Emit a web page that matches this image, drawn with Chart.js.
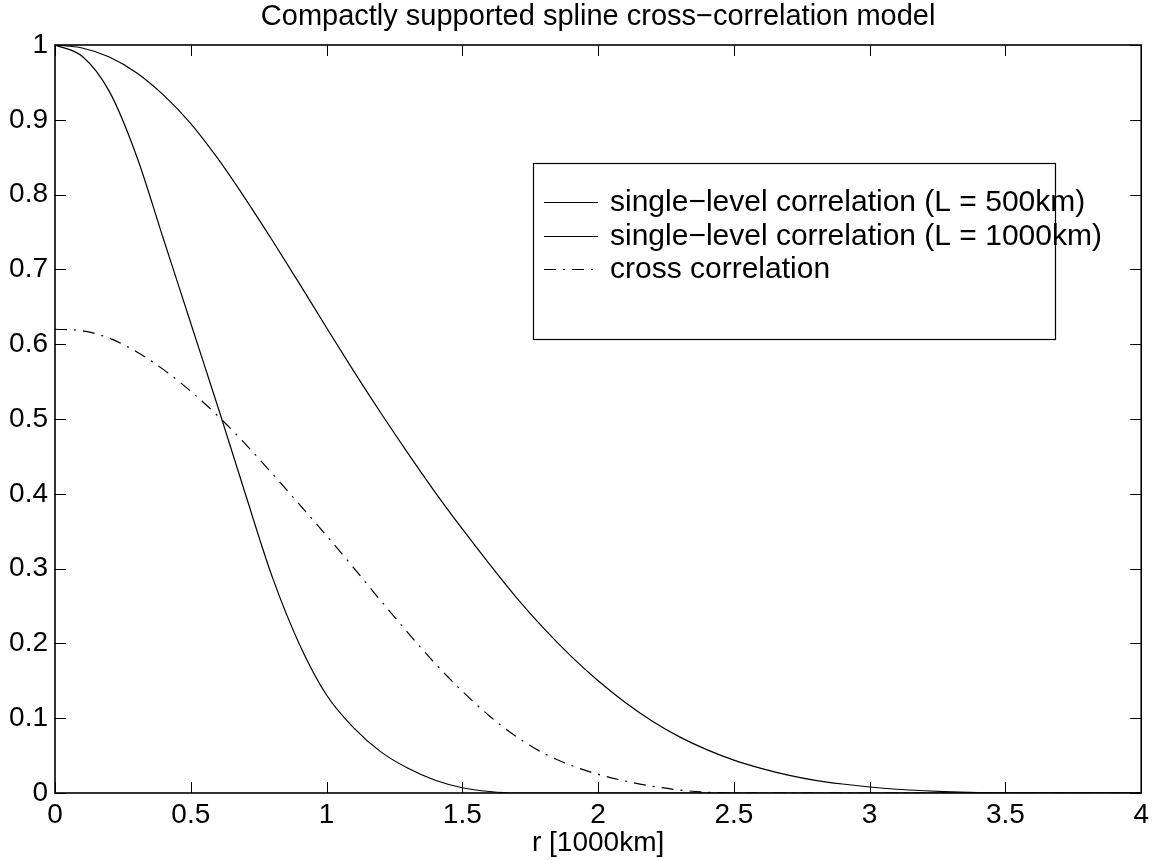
<!DOCTYPE html>
<html>
<head>
<meta charset="utf-8">
<title>Compactly supported spline cross-correlation model</title>
<script src="https://cdn.jsdelivr.net/npm/chart.js@4.4.0/dist/chart.umd.min.js"></script>
<style>
  html, body { margin:0; padding:0; background:#fff; }
  #wrap { width:1154px; height:860px; }
</style>
</head>
<body>
<div id="wrap"><canvas id="chart" width="1154" height="860"></canvas></div>
<script>
// r in units of 1000 km
const rValues = [
  0.0, 0.1, 0.2, 0.3, 0.4, 0.5, 0.6, 0.7, 0.8, 0.9,
  1.0, 1.1, 1.2, 1.3, 1.4, 1.5, 1.6, 1.7, 1.8, 1.9,
  2.0, 2.1, 2.2, 2.3, 2.4, 2.5, 2.6, 2.7, 2.8, 2.9,
  3.0, 3.1, 3.2, 3.3, 3.4, 3.5, 3.6, 3.7, 3.8, 3.9, 4.0
];

// single-level correlation, L = 500 km
const corr500 = [
  1.000, 0.985, 0.938, 0.852, 0.740, 0.628, 0.516, 0.401, 0.289, 0.199,
  0.131, 0.087, 0.055, 0.033, 0.017, 0.007, 0.002, 0.000, 0, 0,
  0, 0, 0, 0, 0, 0, 0, 0, 0, 0,
  0, 0, 0, 0, 0, 0, 0, 0, 0, 0, 0
];

// single-level correlation, L = 1000 km
const corr1000 = [
  1.000, 0.996, 0.984, 0.963, 0.933, 0.895, 0.848, 0.795, 0.739, 0.681,
  0.622, 0.564, 0.508, 0.454, 0.402, 0.353, 0.306, 0.261, 0.220, 0.183,
  0.150, 0.121, 0.096, 0.075, 0.058, 0.044, 0.033, 0.024, 0.017, 0.012,
  0.008, 0.005, 0.003, 0.0015, 0.0005, 0, 0, 0, 0, 0, 0
];

// cross correlation between the two levels
const crossCorr = [
  0.620, 0.618, 0.608, 0.590, 0.566, 0.537, 0.504, 0.467, 0.427, 0.386,
  0.344, 0.301, 0.257, 0.214, 0.173, 0.136, 0.103, 0.075, 0.053, 0.037,
  0.025, 0.016, 0.009, 0.004, 0.001, 0.000, 0, 0, 0, 0,
  0, 0, 0, 0, 0, 0, 0, 0, 0, 0, 0
];

const xTicks = [0, 0.5, 1, 1.5, 2, 2.5, 3, 3.5, 4];
const yTicks = [0, 0.1, 0.2, 0.3, 0.4, 0.5, 0.6, 0.7, 0.8, 0.9, 1];

const seriesNames = [
  'single\u2212level correlation (L = 500km)',
  'single\u2212level correlation (L = 1000km)',
  'cross correlation'
];

const FONT = "'Liberation Sans', Arial, Helvetica, sans-serif";
const TICK_LEN = 11;

const toPoints = (ys) => rValues.map((r, i) => ({ x: r, y: ys[i] }));
const fmt = (v) => String(+v.toFixed(2));

// matlab-style box with ticks pointing inward on all four sides
const boxAxes = {
  id: 'boxAxes',
  afterDraw(chart){
    const { ctx, chartArea: a, scales: { x, y } } = chart;
    ctx.save();
    ctx.strokeStyle = '#000';
    ctx.lineWidth = 1;
    ctx.beginPath();
    x.ticks.forEach(t => {
      const px = Math.round(x.getPixelForValue(t.value)) + 0.5;
      ctx.moveTo(px, a.bottom); ctx.lineTo(px, a.bottom - TICK_LEN);
      ctx.moveTo(px, a.top);    ctx.lineTo(px, a.top + TICK_LEN);
    });
    y.ticks.forEach(t => {
      const py = Math.round(y.getPixelForValue(t.value)) + 0.5;
      ctx.moveTo(a.left, py);  ctx.lineTo(a.left + TICK_LEN, py);
      ctx.moveTo(a.right, py); ctx.lineTo(a.right - TICK_LEN, py);
    });
    ctx.stroke();
    ctx.lineWidth = 1.6;
    ctx.strokeRect(a.left, a.top, a.right - a.left, a.bottom - a.top);
    ctx.restore();
  }
};

// legend box sitting inside the axes, upper right
const legendBox = { left: 478, top: 118, width: 522, height: 176, firstRow: 39, rowGap: 33.5, lineFrom: 11, lineTo: 65, textAt: 77 };

const insideLegend = {
  id: 'insideLegend',
  afterDraw(chart){
    const { ctx, chartArea: a } = chart;
    const L = legendBox;
    const bx = a.left + L.left, by = a.top + L.top;
    ctx.save();
    ctx.fillStyle = '#fff';
    ctx.fillRect(bx, by, L.width, L.height);
    ctx.strokeStyle = '#000';
    ctx.lineWidth = 1.2;
    ctx.strokeRect(bx + 0.5, by + 0.5, L.width, L.height);
    ctx.font = '30px ' + FONT;
    ctx.textBaseline = 'alphabetic';
    ctx.fillStyle = '#000';
    chart.data.datasets.forEach((ds, i) => {
      const ly = Math.round(by + L.firstRow + i * L.rowGap) + 0.5;
      ctx.lineWidth = ds.borderWidth;
      ctx.setLineDash(ds.borderDash || []);
      ctx.beginPath();
      ctx.moveTo(bx + L.lineFrom, ly);
      ctx.lineTo(bx + L.lineTo, ly);
      ctx.stroke();
      ctx.setLineDash([]);
      ctx.fillText(ds.label, bx + L.textAt, ly + 8);
    });
    ctx.restore();
  }
};

const lineStyle = { borderColor: '#000', borderWidth: 1.2, pointRadius: 0, showLine: true, fill: false, cubicInterpolationMode: 'monotone' };

new Chart(document.getElementById('chart'), {
  type: 'scatter',
  data: {
    datasets: [
      { ...lineStyle, label: seriesNames[0], data: toPoints(corr500) },
      { ...lineStyle, label: seriesNames[1], data: toPoints(corr1000) },
      { ...lineStyle, label: seriesNames[2], data: toPoints(crossCorr), borderDash: [12, 7, 2, 7] }
    ]
  },
  options: {
    responsive: false,
    animation: false,
    layout: { padding: { left: 0, right: 12, top: 0, bottom: 0 } },
    plugins: {
      legend: { display: false },
      tooltip: { enabled: false },
      title: {
        display: true,
        fullSize: false,
        text: 'Compactly supported spline cross\u2212correlation model',
        color: '#000',
        font: { family: FONT, size: 29, weight: 'normal', lineHeight: 1.2 },
        padding: { top: 0, bottom: 10.2 }
      }
    },
    scales: {
      x: {
        type: 'linear', min: 0, max: 4,
        afterBuildTicks: (s) => { s.ticks = xTicks.map(v => ({ value: v })); },
        afterFit: (s) => { s.height = 67; },
        grid: { display: false, drawTicks: false, tickLength: 0 }, border: { display: false },
        ticks: { color: '#000', padding: 5, maxRotation: 0, font: { family: FONT, size: 28 }, callback: fmt },
        title: { display: true, text: 'r [1000km]', color: '#000', font: { family: FONT, size: 28 }, padding: { top: 0, bottom: 0 } }
      },
      y: {
        type: 'linear', min: 0, max: 1,
        afterBuildTicks: (s) => { s.ticks = yTicks.map(v => ({ value: v })); },
        afterFit: (s) => { s.width = 55; },
        grid: { display: false, drawTicks: false, tickLength: 0 }, border: { display: false },
        ticks: { color: '#000', padding: 7, font: { family: FONT, size: 28 }, callback: fmt }
      }
    }
  },
  plugins: [boxAxes, insideLegend]
});
</script>
</body>
</html>
